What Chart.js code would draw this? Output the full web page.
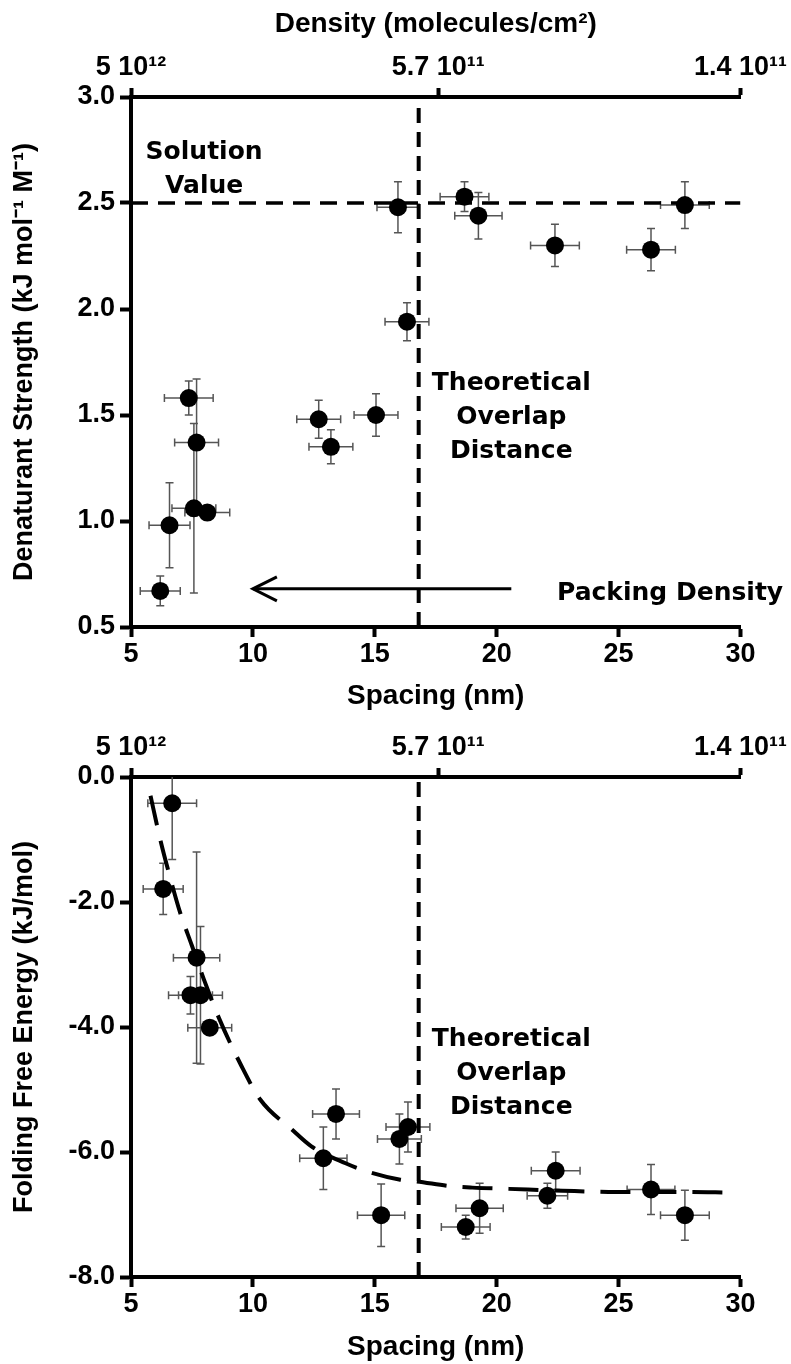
<!DOCTYPE html>
<html>
<head>
<meta charset="utf-8">
<script src="https://cdn.jsdelivr.net/npm/chart.js@4.4.1/dist/chart.umd.min.js"></script>
<style>
  html, body { margin: 0; padding: 0; background: #fff; }
  #wrap { position: relative; width: 791px; height: 1364px; }
  canvas { position: absolute; left: 0; }
  #topChart { top: 0; }
  #bottomChart { top: 720px; }
</style>
</head>
<body>
<div id="wrap">
  <canvas id="topChart" width="791" height="720"></canvas>
  <canvas id="bottomChart" width="791" height="644"></canvas>
</div>
<script>
// spacing axis (nm), shared by both panels
const spacingTicks = [5, 10, 15, 20, 25, 30];
// density axis on top, tick positions in nm and their labels
const densityTicks = [5, 17.6, 30];
const densityLabels = ['5 10¹²', '5.7 10¹¹', '1.4 10¹¹'];

const overlapDistance = 16.8;
const solutionValue = 2.5;

// panel A: denaturant strength vs spacing
const strengthX    = [6.2, 6.58, 7.37, 7.69, 7.58, 8.13, 12.7, 13.2, 15.05, 15.95, 16.32, 18.68, 19.25, 22.39, 26.33, 27.72];
const strengthY    = [0.67, 0.98, 1.58, 1.37, 1.06, 1.04, 1.48, 1.35, 1.50, 2.48, 1.94, 2.53, 2.44, 2.30, 2.28, 2.49];
const strengthXErr = [0.82, 0.84, 1.0, 0.9, 0.9, 0.92, 0.9, 0.9, 0.9, 0.86, 0.9, 1.0, 0.97, 1.0, 1.0, 1.0];
const strengthYErr = [0.07, 0.2, 0.08, 0.30, 0.40, 0.02, 0.09, 0.08, 0.10, 0.12, 0.09, 0.07, 0.11, 0.10, 0.10, 0.11];

// panel B: folding free energy vs spacing
const energyX    = [6.32, 6.69, 7.44, 7.85, 7.69, 8.23, 12.89, 13.41, 15.26, 16.01, 16.36, 18.73, 19.3, 22.08, 22.42, 26.33, 27.72];
const energyY    = [-1.79, -0.42, -3.49, -3.49, -2.89, -4.01, -6.10, -5.39, -7.01, -5.79, -5.6, -7.20, -6.90, -6.70, -6.30, -6.60, -7.01];
const energyXErr = [0.82, 1.0, 0.9, 0.9, 0.95, 0.9, 0.97, 0.96, 0.97, 0.9, 0.9, 1.0, 0.97, 0.83, 1.0, 0.98, 1.0];
const energyYErr = [0.41, 0.9, 0.3, 1.1, 1.69, 0.1, 0.5, 0.4, 0.5, 0.4, 0.4, 0.19, 0.4, 0.2, 0.3, 0.4, 0.4];

// dashed fit line
const fitX = [5.8, 6.2, 6.6, 7.0, 7.5, 8.0, 8.6, 9.5, 10.3, 11.6, 12.4, 13.8, 14.6, 16.0, 16.7, 18.2, 19.0, 20.5, 22.7, 24.9, 27.9, 29.5];
const fitY = [-0.3, -1.0, -1.6, -2.15, -2.7, -3.25, -3.85, -4.6, -5.16, -5.64, -5.91, -6.18, -6.3, -6.44, -6.47, -6.55, -6.57, -6.59, -6.62, -6.64, -6.64, -6.65];

const NARROW = "'Liberation Sans Narrow', 'Liberation Sans', Arial, sans-serif";
const WIDE = "'Liberation Sans', Arial, sans-serif";
const NOTE_FONT = "bold 25px 'DejaVu Sans', Verdana, sans-serif";

const pts = (xs, ys) => xs.map((x, i) => ({ x: x, y: ys[i] }));

function errorBars(xs, ys, xErr, yErr) {
  return {
    id: 'errorBars',
    beforeDatasetsDraw(chart) {
      const { ctx, chartArea: a, scales: { x, y } } = chart;
      const cap = 4;
      ctx.save();
      ctx.beginPath();
      ctx.rect(a.left, a.top, a.right - a.left, a.bottom - a.top);
      ctx.clip();
      ctx.strokeStyle = '#555';
      ctx.lineWidth = 1.5;
      xs.forEach((xv, i) => {
        const px = x.getPixelForValue(xv), py = y.getPixelForValue(ys[i]);
        const x0 = x.getPixelForValue(xv - xErr[i]), x1 = x.getPixelForValue(xv + xErr[i]);
        const y0 = y.getPixelForValue(ys[i] - yErr[i]), y1 = y.getPixelForValue(ys[i] + yErr[i]);
        ctx.beginPath();
        ctx.moveTo(x0, py); ctx.lineTo(x1, py);
        ctx.moveTo(x0, py - cap); ctx.lineTo(x0, py + cap);
        ctx.moveTo(x1, py - cap); ctx.lineTo(x1, py + cap);
        ctx.moveTo(px, y0); ctx.lineTo(px, y1);
        ctx.moveTo(px - cap, y0); ctx.lineTo(px + cap, y0);
        ctx.moveTo(px - cap, y1); ctx.lineTo(px + cap, y1);
        ctx.stroke();
      });
      ctx.restore();
    }
  };
}

// text notes placed in data coordinates, plus optional arrow head
function notes(items, arrowIndex) {
  return {
    id: 'notes',
    afterDraw(chart) {
      const { ctx, scales: { x, y } } = chart;
      ctx.save();
      ctx.fillStyle = '#000';
      ctx.font = NOTE_FONT;
      ctx.textBaseline = 'middle';
      items.forEach(n => {
        ctx.textAlign = n.align || 'center';
        const px = x.getPixelForValue(n.x), py = y.getPixelForValue(n.y);
        n.lines.forEach((t, i) => ctx.fillText(t, px, py + i * 34));
      });
      if (arrowIndex != null) {
        const pts = chart.getDatasetMeta(arrowIndex).data;
        const tip = pts[pts.length - 1];
        ctx.strokeStyle = '#000';
        ctx.lineWidth = 3;
        ctx.beginPath();
        ctx.moveTo(tip.x + 24, tip.y - 12);
        ctx.lineTo(tip.x, tip.y);
        ctx.lineTo(tip.x + 24, tip.y + 12);
        ctx.stroke();
      }
      ctx.restore();
    }
  };
}

function spacingAxis(height, titlePad) {
  return {
    type: 'linear', position: 'bottom', min: 5, max: 30,
    afterFit: s => { s.height = height; },
    afterBuildTicks: s => { s.ticks = spacingTicks.map(v => ({ value: v })); },
    border: { width: 4, color: '#000' },
    grid: { drawOnChartArea: false, drawTicks: true, tickLength: 10, tickWidth: 4, tickColor: '#000' },
    ticks: { color: '#000', padding: 1, maxRotation: 0, font: { family: NARROW, size: 27, weight: 'bold' } },
    title: { display: true, text: 'Spacing (nm)', color: '#000', padding: { top: 0, bottom: titlePad },
             font: { family: NARROW, size: 28, weight: 'bold' } }
  };
}

function densityAxis(height, withTitle) {
  return {
    type: 'linear', position: 'top', min: 5, max: 30,
    afterFit: s => { s.height = height; },
    afterBuildTicks: s => { s.ticks = densityTicks.map(v => ({ value: v })); },
    border: { width: 4, color: '#000' },
    grid: { drawOnChartArea: false, drawTicks: true, tickLength: 9, tickWidth: 4, tickColor: '#000' },
    ticks: { color: '#000', padding: 4, maxRotation: 0, autoSkip: false,
             callback: (v, i) => densityLabels[i],
             font: { family: NARROW, size: 27, weight: 'bold' } },
    title: { display: withTitle, text: 'Density (molecules/cm²)', color: '#000', padding: { top: 7, bottom: 0 },
             font: { family: NARROW, size: 28, weight: 'bold' } }
  };
}

function valueAxis(min, max, step, title) {
  return {
    type: 'linear', position: 'left', min: min, max: max,
    afterFit: s => { s.width = 131; },
    border: { width: 4, color: '#000' },
    grid: { drawOnChartArea: false, drawTicks: true, tickLength: 11, tickWidth: 4, tickColor: '#000' },
    ticks: { color: '#000', stepSize: step, padding: 5, callback: v => v.toFixed(1),
             font: { family: NARROW, size: 27, weight: 'bold' } },
    title: { display: true, text: title, color: '#000', padding: { top: 8, bottom: 0 },
             font: { family: WIDE, size: 27, weight: 'bold' } }
  };
}

const common = {
  responsive: false, animation: false, events: [],
  plugins: { legend: { display: false }, tooltip: { enabled: false } }
};

const dotStyle = { pointRadius: 9, pointBackgroundColor: '#000', pointBorderWidth: 0, showLine: false, order: 0 };

new Chart(document.getElementById('topChart'), {
  type: 'scatter',
  data: {
    datasets: [
      Object.assign({ data: pts(strengthX, strengthY) }, dotStyle),
      { type: 'line', data: [{ x: 5, y: solutionValue }, { x: 30, y: solutionValue }],
        borderColor: '#000', borderWidth: 3.5, borderDash: [17, 10], pointRadius: 0, order: 1 },
      { type: 'line', data: [{ x: overlapDistance, y: 0.5 }, { x: overlapDistance, y: 3.0 }],
        borderColor: '#000', borderWidth: 4, borderDash: [15, 9], pointRadius: 0, order: 1 },
      { type: 'line', data: [{ x: 20.6, y: 0.68 }, { x: 10.0, y: 0.68 }],
        borderColor: '#000', borderWidth: 3, pointRadius: 0, order: 1 }
    ]
  },
  options: Object.assign({}, common, {
    layout: { padding: { left: 0, right: 50, top: 0, bottom: 0 } },
    scales: {
      x: spacingAxis(93, 7),
      x2: densityAxis(97, true),
      y: valueAxis(0.5, 3.0, 0.5, 'Denaturant Strength (kJ mol⁻¹ M⁻¹)')
    }
  }),
  plugins: [
    errorBars(strengthX, strengthY, strengthXErr, strengthYErr),
    notes([
      { x: 8.0, y: 2.74, lines: ['Solution', 'Value'] },
      { x: 20.6, y: 1.65, lines: ['Theoretical', 'Overlap', 'Distance'] },
      { x: 31.75, y: 0.66, lines: ['Packing Density'], align: 'right' }
    ], 3)
  ]
});

new Chart(document.getElementById('bottomChart'), {
  type: 'scatter',
  data: {
    datasets: [
      Object.assign({ data: pts(energyX, energyY) }, dotStyle),
      { type: 'line', data: pts(fitX, fitY), borderColor: '#000', borderWidth: 4, borderDash: [30, 16],
        cubicInterpolationMode: 'monotone', pointRadius: 0, order: 1 },
      { type: 'line', data: [{ x: overlapDistance, y: -8 }, { x: overlapDistance, y: 0 }],
        borderColor: '#000', borderWidth: 4, borderDash: [15, 9], pointRadius: 0, order: 1 }
    ]
  },
  options: Object.assign({}, common, {
    layout: { padding: { left: 0, right: 50, top: 0, bottom: 0 } },
    scales: {
      x: spacingAxis(87, 0),
      x2: densityAxis(57, false),
      y: valueAxis(-8, 0, 2, 'Folding Free Energy (kJ/mol)')
    }
  }),
  plugins: [
    errorBars(energyX, energyY, energyXErr, energyYErr),
    notes([
      { x: 20.6, y: -4.2, lines: ['Theoretical', 'Overlap', 'Distance'] }
    ], null)
  ]
});
</script>
</body>
</html>
